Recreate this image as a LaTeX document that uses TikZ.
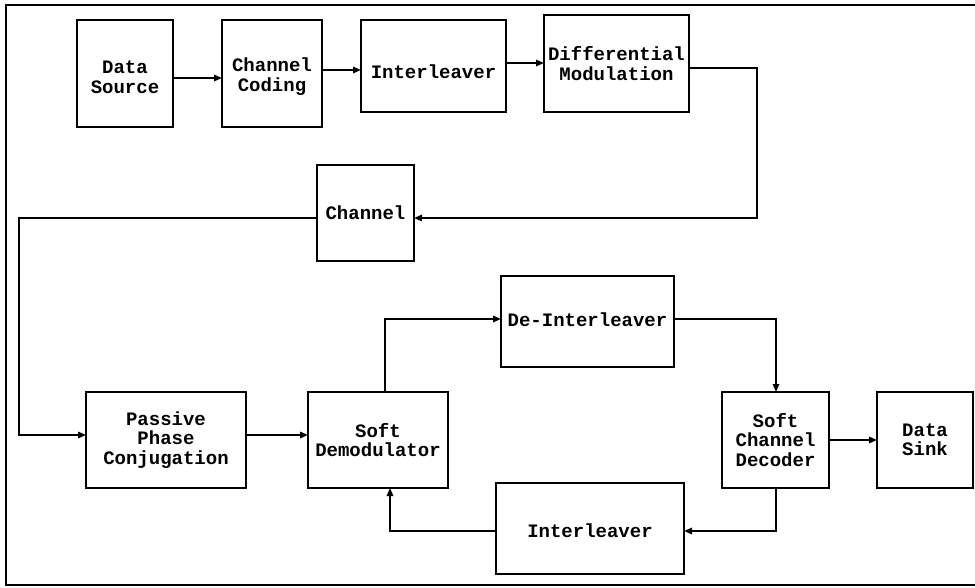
\documentclass[tikz,border=0pt]{standalone}
\usepackage{fontspec}
\setmonofont{Liberation Mono}
\usetikzlibrary{arrows.meta}
\begin{document}
\begin{tikzpicture}[x=1pt,y=-1pt,
  blk/.style={draw,line width=1.8pt,rectangle,inner sep=0pt,outer sep=0pt},
  lbl/.style={align=center,inner sep=0pt,font=\ttfamily\bfseries\fontsize{19}{19.5}\selectfont},
  conn/.style={line width=1.5pt,-{Triangle[length=8pt,width=6.5pt]}},
  plain/.style={line width=1.5pt}]
\useasboundingbox (0,0) rectangle (975,588);
% frame (right side lies outside the picture)
\draw[line width=2.6pt] (990,5) -- (6,5) -- (6,585) -- (990,585);
% boxes
\node[blk,minimum width=96pt,minimum height=107pt] (ds) at (125,73.5) {};
\node[blk,minimum width=100pt,minimum height=107pt] (cc) at (272,73.5) {};
\node[blk,minimum width=145pt,minimum height=92pt] (il) at (433.5,66) {};
\node[blk,minimum width=145pt,minimum height=97pt] (dm) at (616.5,63.5) {};
\node[blk,minimum width=97pt,minimum height=96pt] (ch) at (365.5,213) {};
\node[blk,minimum width=160pt,minimum height=96pt] (pp) at (166,440) {};
\node[blk,minimum width=140pt,minimum height=96pt] (sd) at (378,440) {};
\node[blk,minimum width=173pt,minimum height=91pt] (di) at (587.5,321.5) {};
\node[blk,minimum width=107pt,minimum height=96pt] (scd) at (775.5,440) {};
\node[blk,minimum width=96pt,minimum height=96pt] (snk) at (925,440) {};
\node[blk,minimum width=188pt,minimum height=91pt] (il2) at (590,528.5) {};
% labels
\node[lbl,yshift=-4pt] (dsl) at (ds.center) {Data\\Source};
\node[lbl,yshift=-3pt] (ccl) at (cc.center) {Channel\\Coding};
\node[lbl,yshift=-6pt] (ill) at (il.center) {Interleaver};
\node[lbl] (dml) at (dm.center) {Differential\\Modulation};
\node[lbl] (chl) at (ch.center) {Channel};
\node[lbl] (ppl) at (pp.center) {Passive\\Phase\\Conjugation};
\node[lbl] (sdl) at (sd.center) {Soft\\Demodulator};
\node[lbl,yshift=2pt] (dil) at (di.center) {De-Interleaver};
\node[lbl] (scdl) at (scd.center) {Soft\\Channel\\Decoder};
\node[lbl] (snkl) at (snk.center) {Data\\Sink};
\node[lbl,yshift=-2pt] (il2l) at (il2.center) {Interleaver};
% corner coordinates
\coordinate (c1) at (757,68);
\coordinate (c2) at (757,218);
\coordinate (c3) at (19,218);
\coordinate (c4) at (19,435);
\coordinate (c5) at (385,319);
\coordinate (c6) at (776,319);
\coordinate (c7) at (776,531);
\coordinate (c8) at (390,531);
% connectors
\draw[conn] (ds.east |- 0,78) -- (cc.west |- 0,78);
\draw[conn] (cc.east |- 0,70) -- (il.west |- 0,70);
\draw[conn] (il.east |- 0,63) -- (dm.west |- 0,63);
\draw[conn] (dm.east |- c1) -- (c1) -- (c2) -- (ch.east |- c2);
\draw[conn] (ch.west |- c3) -- (c3) -- (c4) -- (pp.west |- c4);
\draw[conn] (pp.east |- c4) -- (sd.west |- c4);
\draw[conn] (sd.north -| c5) -- (c5) -- (di.west |- c5);
\draw[conn] (di.east |- c6) -- (c6) -- (scd.north -| c6);
\draw[conn] (scd.east |- 0,440) -- (snk.west |- 0,440);
\draw[conn] (scd.south -| c7) -- (c7) -- (il2.east |- c7);
\draw[conn] (il2.west |- c8) -- (c8) -- (sd.south -| c8);
\end{tikzpicture}
\end{document}
